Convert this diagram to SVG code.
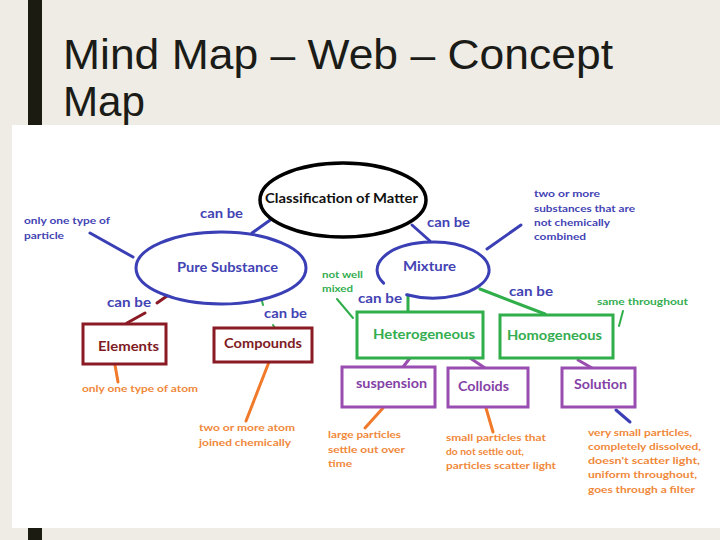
<svg xmlns="http://www.w3.org/2000/svg" width="720" height="540" viewBox="0 0 720 540">
<style>
.title{font-family:"Liberation Sans",Arial,sans-serif;font-size:43px;fill:#1b1b17}
.lbl{font-family:Lato,"Open Sans",sans-serif;font-weight:bold}
.big{font-size:13px}
.sm{font-size:10px}
.blue{fill:#4343b4}
.green{fill:#33ad4f}
.red{fill:#7e1b24}
.purple{fill:#8442a6}
.orange{fill:#f0883a}
.black{fill:#111}
.lb{stroke:#3a3fb6;stroke-width:3;fill:none;stroke-linecap:round}
.lg{stroke:#2fae4a;stroke-width:3;fill:none;stroke-linecap:round}
.lr{stroke:#8a1a24;stroke-width:3;fill:none;stroke-linecap:round}
.lp{stroke:#9a4db0;stroke-width:3;fill:none;stroke-linecap:round}
.lo{stroke:#f07a2a;stroke-width:3;fill:none;stroke-linecap:round}
.bred{fill:#fff;stroke:#8a1a24;stroke-width:3}
.bgreen{fill:#fff;stroke:#2fae4a;stroke-width:3}
.bpurple{fill:#fff;stroke:#9a4db0;stroke-width:3}
</style>
<rect x="0" y="0" width="720" height="540" fill="#eeece4"/>
<rect x="28" y="0" width="14" height="126" fill="#1b1b12"/>
<rect x="28" y="527" width="14" height="13" fill="#1b1b12"/>
<text class="title" x="63" y="69" textLength="550" lengthAdjust="spacingAndGlyphs">Mind Map – Web – Concept</text>
<text class="title" x="63" y="116" textLength="82" lengthAdjust="spacingAndGlyphs">Map</text>
<rect x="12" y="125" width="708" height="403" fill="#ffffff"/>

<g id="connectors">
  <line class="lb" x1="273" y1="218" x2="252" y2="233"/>
  <line class="lb" x1="412" y1="225" x2="430" y2="241"/>
  <line class="lb" x1="90" y1="233" x2="133" y2="257"/>
  <line class="lb" x1="487" y1="249" x2="521" y2="225"/>
  <line class="lr" x1="167" y1="296" x2="157" y2="303"/>
  <line class="lr" x1="145" y1="313" x2="127" y2="323"/>
  <line class="lg" x1="262" y1="301" x2="263" y2="305" style="stroke-width:2"/>
  <line class="lg" x1="273" y1="325" x2="275" y2="328" style="stroke-width:2"/>
  <line class="lo" x1="115" y1="365" x2="118" y2="382"/>
  <line class="lo" x1="269" y1="362" x2="246" y2="421"/>
  <line class="lg" x1="408" y1="295" x2="408" y2="313"/>
  <line class="lg" x1="480" y1="289" x2="545" y2="314"/>
  <line class="lg" x1="337" y1="299" x2="353" y2="318" style="stroke-width:2"/>
  <line class="lg" x1="619" y1="326" x2="623" y2="311" style="stroke-width:2"/>
  <line class="lp" x1="410" y1="358" x2="403" y2="367"/>
  <line class="lp" x1="470" y1="358" x2="485" y2="368"/>
  <line class="lp" x1="578" y1="360" x2="592" y2="368"/>
  <line class="lo" x1="383" y1="408" x2="365" y2="428"/>
  <line class="lo" x1="486" y1="408" x2="493" y2="432"/>
  <line class="lb" x1="616" y1="410" x2="630" y2="422"/>
  <text class="lbl big blue" x="200" y="218" textLength="43" lengthAdjust="spacingAndGlyphs">can be</text>
  <text class="lbl big blue" x="427" y="227" textLength="43" lengthAdjust="spacingAndGlyphs">can be</text>
  <text class="lbl big blue" x="107" y="307" textLength="44" lengthAdjust="spacingAndGlyphs">can be</text>
  <text class="lbl big blue" x="264" y="318" textLength="43" lengthAdjust="spacingAndGlyphs">can be</text>
  <text class="lbl big blue" x="358" y="303" textLength="44" lengthAdjust="spacingAndGlyphs">can be</text>
  <text class="lbl big blue" x="509" y="296" textLength="44" lengthAdjust="spacingAndGlyphs">can be</text>
</g>

<g id="classification">
  <ellipse cx="343" cy="200" rx="83" ry="37" fill="#fff" stroke="#000" stroke-width="3.5"/>
  <text class="lbl black" x="265" y="203" font-size="14" textLength="153" lengthAdjust="spacingAndGlyphs">Classification of Matter</text>
</g>
<g id="pure-substance">
  <ellipse cx="221" cy="268" rx="85" ry="36" fill="none" stroke="#3a3fb6" stroke-width="3"/>
  <text class="lbl big blue" x="177" y="272" textLength="101" lengthAdjust="spacingAndGlyphs">Pure Substance</text>
</g>
<g id="mixture">
  <path d="M406.7,294.7 A56,28 0 1 0 383.6,283.1" fill="none" stroke="#3a3fb6" stroke-width="3" stroke-linecap="round"/>
  <text class="lbl big blue" x="403" y="271" textLength="53" lengthAdjust="spacingAndGlyphs">Mixture</text>
</g>
<g id="note-particle">
  <text class="lbl sm blue" x="24" y="224" textLength="86" lengthAdjust="spacingAndGlyphs">only one type of</text>
  <text class="lbl sm blue" x="24" y="239" textLength="40" lengthAdjust="spacingAndGlyphs">particle</text>
</g>
<g id="note-mixture">
  <text class="lbl sm blue" x="534" y="197" textLength="66" lengthAdjust="spacingAndGlyphs">two or more</text>
  <text class="lbl sm blue" x="534" y="212" textLength="101" lengthAdjust="spacingAndGlyphs">substances that are</text>
  <text class="lbl sm blue" x="534" y="226" textLength="76" lengthAdjust="spacingAndGlyphs">not chemically</text>
  <text class="lbl sm blue" x="534" y="240" textLength="52" lengthAdjust="spacingAndGlyphs">combined</text>
</g>
<g id="elements">
  <rect class="bred" x="83" y="324" width="83" height="40"/>
  <text class="lbl big red" x="98" y="351" textLength="61" lengthAdjust="spacingAndGlyphs">Elements</text>
</g>
<g id="compounds">
  <rect class="bred" x="214" y="328" width="98" height="34"/>
  <text class="lbl big red" x="224" y="348" textLength="78" lengthAdjust="spacingAndGlyphs">Compounds</text>
</g>
<g id="note-atom">
  <text class="lbl sm orange" x="82" y="392" textLength="116" lengthAdjust="spacingAndGlyphs">only one type of atom</text>
</g>
<g id="note-compound">
  <text class="lbl sm orange" x="199" y="431" textLength="96" lengthAdjust="spacingAndGlyphs">two or more atom</text>
  <text class="lbl sm orange" x="199" y="446" textLength="92" lengthAdjust="spacingAndGlyphs">joined chemically</text>
</g>
<g id="heterogeneous">
  <rect class="bgreen" x="357" y="312" width="126" height="46"/>
  <text class="lbl big green" x="373" y="339" textLength="102" lengthAdjust="spacingAndGlyphs">Heterogeneous</text>
</g>
<g id="homogeneous">
  <rect class="bgreen" x="500" y="315" width="113" height="43"/>
  <text class="lbl big green" x="507" y="340" textLength="95" lengthAdjust="spacingAndGlyphs">Homogeneous</text>
</g>
<g id="note-notwell">
  <text class="lbl sm green" x="322" y="278" textLength="41" lengthAdjust="spacingAndGlyphs">not well</text>
  <text class="lbl sm green" x="322" y="292" textLength="31" lengthAdjust="spacingAndGlyphs">mixed</text>
</g>
<g id="note-same">
  <text class="lbl sm green" x="597" y="305" textLength="91" lengthAdjust="spacingAndGlyphs">same throughout</text>
</g>
<g id="suspension">
  <rect class="bpurple" x="342" y="367" width="93" height="40"/>
  <text class="lbl big purple" x="356" y="388" textLength="71" lengthAdjust="spacingAndGlyphs">suspension</text>
</g>
<g id="colloids">
  <rect class="bpurple" x="448" y="368" width="80" height="39"/>
  <text class="lbl big purple" x="458" y="391" textLength="51" lengthAdjust="spacingAndGlyphs">Colloids</text>
</g>
<g id="solution">
  <rect class="bpurple" x="562" y="368" width="73" height="39"/>
  <text class="lbl big purple" x="574" y="389" textLength="53" lengthAdjust="spacingAndGlyphs">Solution</text>
</g>
<g id="note-suspension">
  <text class="lbl sm orange" x="328" y="438" textLength="73" lengthAdjust="spacingAndGlyphs">large particles</text>
  <text class="lbl sm orange" x="328" y="453" textLength="77" lengthAdjust="spacingAndGlyphs">settle out over</text>
  <text class="lbl sm orange" x="328" y="467" textLength="24" lengthAdjust="spacingAndGlyphs">time</text>
</g>
<g id="note-colloids">
  <text class="lbl sm orange" x="446" y="441" textLength="100" lengthAdjust="spacingAndGlyphs">small particles that</text>
  <text class="lbl sm orange" x="446" y="455" textLength="78" lengthAdjust="spacingAndGlyphs">do not settle out,</text>
  <text class="lbl sm orange" x="446" y="469" textLength="110" lengthAdjust="spacingAndGlyphs">particles scatter light</text>
</g>
<g id="note-solution">
  <text class="lbl sm orange" x="588" y="436" textLength="104" lengthAdjust="spacingAndGlyphs">very small particles,</text>
  <text class="lbl sm orange" x="588" y="450" textLength="113" lengthAdjust="spacingAndGlyphs">completely dissolved,</text>
  <text class="lbl sm orange" x="588" y="464" textLength="112" lengthAdjust="spacingAndGlyphs">doesn't scatter light,</text>
  <text class="lbl sm orange" x="588" y="478" textLength="109" lengthAdjust="spacingAndGlyphs">uniform throughout,</text>
  <text class="lbl sm orange" x="588" y="493" textLength="107" lengthAdjust="spacingAndGlyphs">goes through a filter</text>
</g>
</svg>
